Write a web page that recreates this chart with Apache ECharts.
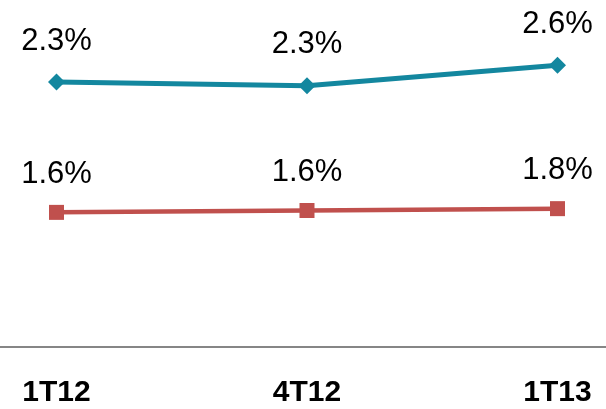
<!DOCTYPE html>
<html>
<head>
<meta charset="utf-8">
<script src="https://cdn.jsdelivr.net/npm/echarts@6/dist/echarts.min.js"></script>
<style>
  html, body { margin: 0; padding: 0; background: #fff; }
  #chart { width: 606px; height: 409px; }
</style>
</head>
<body>
<div id="chart"></div>
<script>
// quarters
var categories = ['1T12', '4T12', '1T13'];
// plotted values
var tealValues = [2.30, 2.28, 2.39];
var redValues = [1.60, 1.61, 1.62];
// data labels as printed on the chart
var tealLabels = ['2.3%', '2.3%', '2.6%'];
var redLabels = ['1.6%', '1.6%', '1.8%'];

function toPoints(values) {
    return values.map(function (v, i) { return [i, v]; });
}

var myChart = echarts.init(document.getElementById('chart'));
var option = {
    animation: false,
    textStyle: { fontFamily: 'Liberation Sans' },
    grid: { left: 0, right: 0, top: 0, bottom: 62.5 },
    xAxis: {
        type: 'value',
        min: -0.2255,
        max: 2.1936,
        splitLine: { show: false },
        axisLine: { onZero: false, lineStyle: { color: '#868686', width: 2 } },
        axisTick: { show: false },
        axisLabel: {
            customValues: [0, 1, 2],
            color: '#000',
            fontSize: 30,
            fontWeight: 'bold',
            margin: 31,
            formatter: function (v) { return categories[Math.round(v)]; }
        }
    },
    yAxis: {
        type: 'value',
        min: 0.88,
        max: 2.74,
        show: false,
        splitLine: { show: false }
    },
    series: [
        {
            name: 'teal',
            type: 'line',
            data: toPoints(tealValues),
            symbol: 'diamond',
            symbolSize: 17,
            lineStyle: { color: '#13879f', width: 5 },
            itemStyle: { color: '#13879f' },
            label: {
                show: true,
                position: 'top',
                distance: 17,
                color: '#000',
                fontSize: 31,
                formatter: function (p) { return tealLabels[p.dataIndex]; }
            }
        },
        {
            name: 'red',
            type: 'line',
            data: toPoints(redValues),
            symbol: 'rect',
            symbolSize: 15,
            lineStyle: { color: '#c0504d', width: 4.5 },
            itemStyle: { color: '#c0504d' },
            label: {
                show: true,
                position: 'top',
                distance: 15,
                color: '#000',
                fontSize: 31,
                formatter: function (p) { return redLabels[p.dataIndex]; }
            }
        }
    ]
};
myChart.setOption(option);
</script>
</body>
</html>
